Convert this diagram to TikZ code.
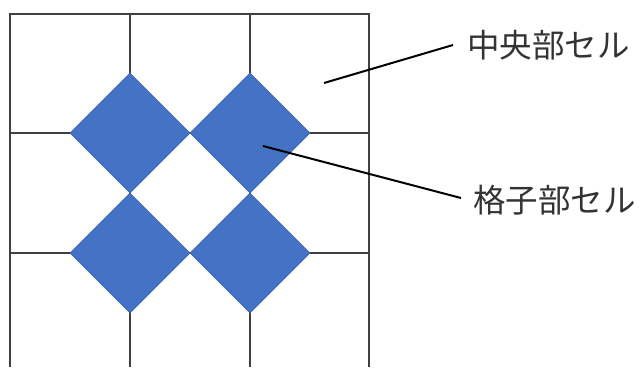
\documentclass[tikz,border=0pt]{standalone}
\usepackage{fontspec}
\newfontfamily\jpfont{Noto Sans CJK JP}
\definecolor{tilefill}{RGB}{68,114,196}
\definecolor{tileedge}{RGB}{58,98,170}
\begin{document}
\begin{tikzpicture}[x=1pt,y=-1pt,
  gridline/.style={draw=black!75,line width=1.2pt},
  tile/.style={fill=tilefill,draw=tileedge,line width=0.4pt},
  leader/.style={draw=black,line width=2pt},
  label/.style={font=\jpfont\fontsize{32.5}{32.5}\selectfont,text=black!80,anchor=west,inner sep=0pt}]
\useasboundingbox (0,0) rectangle (640,367);
% grid
\draw[gridline] (10,367) -- (10,14) -- (369,14) -- (369,367);
\draw[gridline] (130,14) -- (130,367);
\draw[gridline] (250,14) -- (250,367);
\draw[gridline] (10,133) -- (369,133);
\draw[gridline] (10,253) -- (369,253);
% lattice tiles
\foreach \cx/\cy/\nm in {130/133/t1,250/133/t2,130/253/t3,250/253/t4}{
  \path[tile] (\cx-60,\cy) -- (\cx,\cy-60) -- (\cx+60,\cy) -- (\cx,\cy+60) -- cycle;
  \coordinate (\nm) at (\cx,\cy);
}
% labels
\node[label] (center) at (467,45) {中央部セル};
\node[label] (lattice) at (473,200) {格子部セル};
\coordinate (cpt) at (324,83);
\coordinate (lpt) at (263,146);
\draw[leader] (cpt) -- ([xshift=-14pt]center.west);
\draw[leader] (lpt) -- ([xshift=-12pt,yshift=2pt]lattice.west);
\end{tikzpicture}
\end{document}
